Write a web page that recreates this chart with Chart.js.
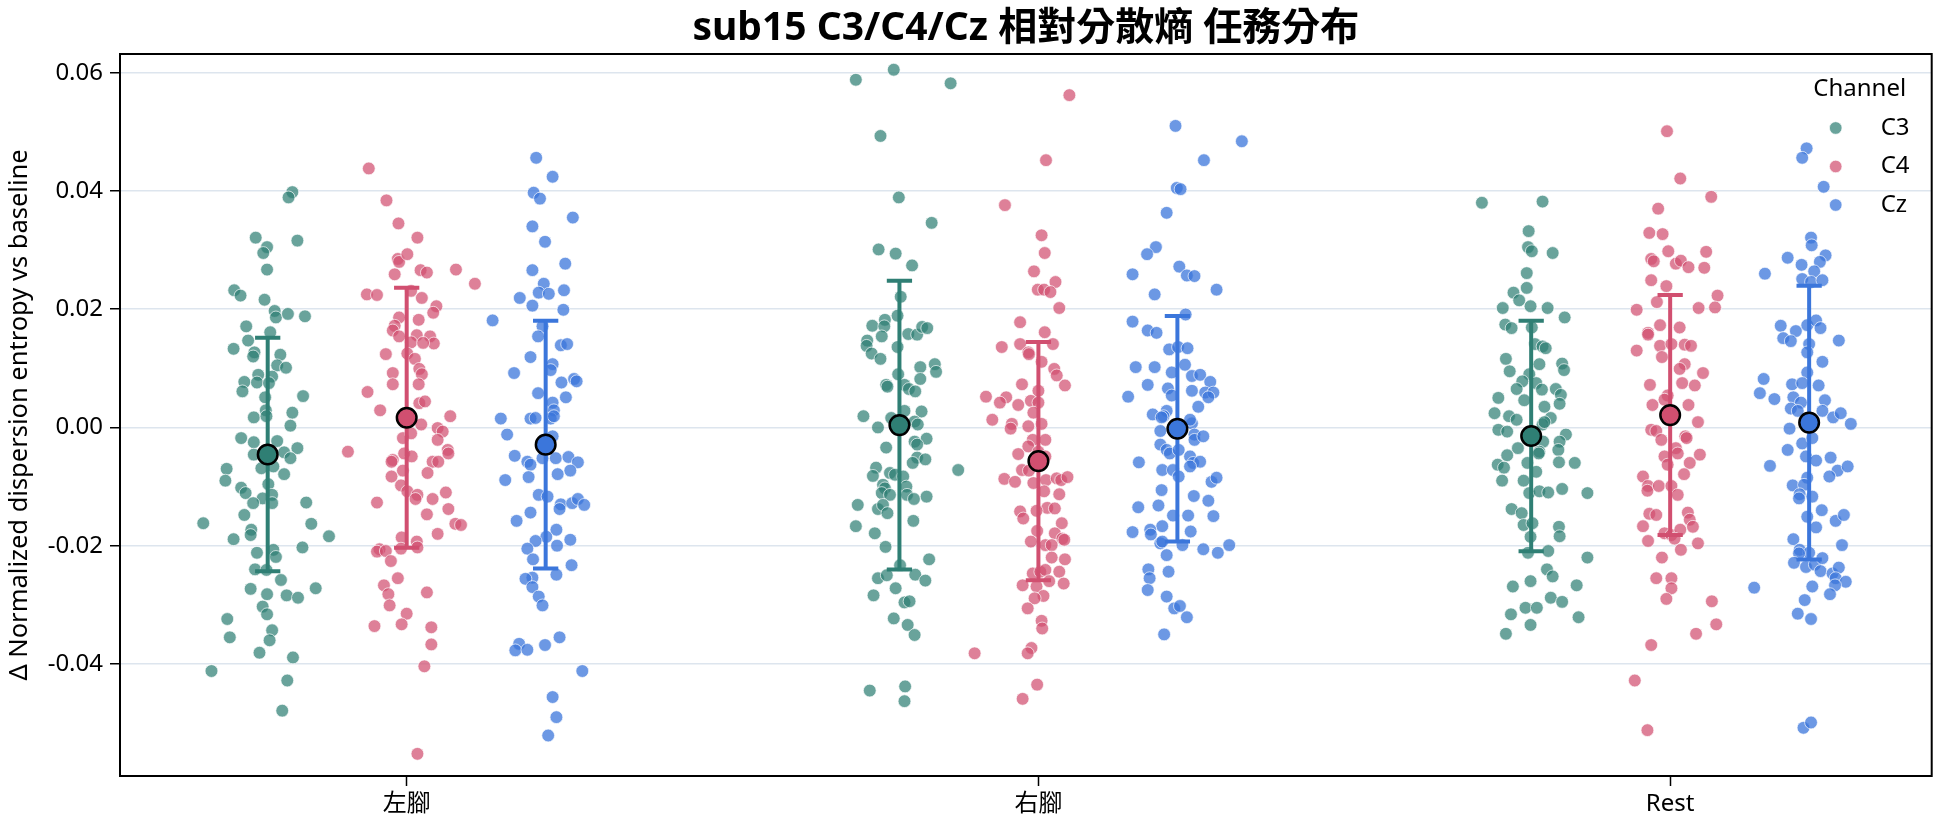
<!DOCTYPE html>
<html>
<head>
<meta charset="utf-8">
<script src="https://cdn.jsdelivr.net/npm/chart.js@4.4.1/dist/chart.umd.min.js"></script>
<style>
  html, body { margin: 0; padding: 0; background: #fff; }
  #wrap { width: 1944px; height: 827px; }
</style>
</head>
<body>
<div id="wrap"><canvas id="c" width="1944" height="827"></canvas></div>
<script>
// categories, channels, ticks
const categories = ["左腳", "右腳", "Rest"];
const channels = ["C3", "C4", "Cz"];
const yTicks = [0.06, 0.04, 0.02, 0.00, -0.02, -0.04];
const titleText = "sub15 C3/C4/Cz 相對分散熵 任務分布";

// mean and SD per channel (order: 左腳, 右腳, Rest)
const meanC3 = [-0.00458, 0.00040, -0.00144];
const meanC4 = [0.00164, -0.00570, 0.00209];
const meanCz = [-0.00291, -0.00022, 0.00082];
const sdC3 = [0.01975, 0.02443, 0.01950];
const sdC4 = [0.02200, 0.02015, 0.02030];
const sdCz = [0.02096, 0.01907, 0.02316];

// strip points: [jitter (thousandths of a category), value]
const leftC3 = [
[39,.0398],[33,.0389],[-19,.0321],[-1,.0305],[-7,.0295],[47,.0316],[-1,.0267],[-53,.0232],[-43,.0223],[-5,.0216],
[11,.0197],[13,.0186],[32,.0192],[59,.0188],[-34,.0171],[4,.0161],[-31,.0147],[-54,.0133],[-21,.0127],[-23,.0120],
[20,.0123],[15,.0105],[29,.0101],[-15,.0089],[7,.0086],[-37,.0077],[-17,.0076],[2,.0075],[-40,.0061],[56,.0053],
[-4,.0051],[-3,.0029],[39,.0025],[-22,.0017],[-2,.0019],[36,.0003],[-42,-.0018],[-22,-.0025],[15,-.0023],[47,-.0035],
[26,-.0042],[36,-.0052],[-22,-.0046],[-10,-.0069],[9,-.0066],[-65,-.0070],[-67,-.0090],[26,-.0079],[-42,-.0102],[-35,-.0111],
[1,-.0096],[7,-.0114],[-8,-.0120],[-23,-.0128],[7,-.0128],[61,-.0127],[-37,-.0148],[-102,-.0162],[69,-.0163],[-26,-.0173],
[-27,-.0182],[-54,-.0189],[97,-.0184],[55,-.0203],[-17,-.0212],[9,-.0207],[13,-.0219],[-20,-.0240],[-2,-.0241],[21,-.0258],
[-27,-.0273],[-1,-.0282],[30,-.0284],[48,-.0288],[76,-.0272],[-8,-.0303],[-1,-.0316],[-64,-.0324],[-60,-.0355],[7,-.0343],
[3,-.0360],[-13,-.0381],[40,-.0389],[-89,-.0412],[31,-.0428],[23,-.0479]
];
const leftC4 = [
[0,.0641],[-60,.0438],[-32,.0384],[-13,.0345],[17,.0321],[-14,.0285],[-12,.0280],[1,.0293],[22,.0266],[32,.0262],
[-19,.0259],[78,.0267],[108,.0243],[-63,.0225],[-47,.0224],[7,.0231],[24,.0219],[47,.0205],[42,.0194],[-12,.0186],
[-19,.0172],[19,.0182],[-22,.0164],[-12,.0154],[16,.0156],[7,.0144],[37,.0154],[43,.0142],[26,.0143],[-33,.0124],
[1,.0125],[13,.0116],[20,.0099],[24,.0090],[-22,.0092],[-22,.0073],[19,.0073],[-62,.0060],[20,.0041],[29,.0044],
[-42,.0029],[69,.0019],[23,.0005],[49,-.0001],[57,-.0007],[49,-.0021],[-6,-.0018],[7,-.0010],[-93,-.0041],[65,-.0038],
[66,-.0044],[-4,-.0044],[8,-.0049],[-22,-.0055],[-24,-.0058],[41,-.0058],[50,-.0058],[-6,-.0073],[33,-.0077],[-24,-.0083],
[-9,-.0098],[1,-.0108],[17,-.0114],[14,-.0121],[41,-.0121],[62,-.0110],[-47,-.0127],[66,-.0138],[32,-.0147],[77,-.0163],
[86,-.0165],[49,-.0180],[-8,-.0186],[16,-.0193],[17,-.0203],[-43,-.0206],[-47,-.0210],[-33,-.0209],[-9,-.0205],[-25,-.0226],
[-14,-.0255],[-36,-.0267],[-29,-.0282],[32,-.0279],[-27,-.0301],[0,-.0315],[-51,-.0336],[-8,-.0333],[39,-.0338],[39,-.0367],
[28,-.0404],[17,-.0552]
];
const leftCz = [
[-15,.0456],[11,.0424],[-19,.0397],[-9,.0387],[43,.0355],[-21,.0340],[-1,.0314],[31,.0277],[-21,.0266],[-3,.0243],
[-11,.0228],[5,.0226],[29,.0232],[-41,.0219],[-21,.0206],[28,.0199],[-84,.0181],[-5,.0171],[-12,.0154],[24,.0139],
[34,.0141],[-24,.0119],[11,.0107],[8,.0097],[-50,.0092],[25,.0076],[45,.0082],[49,.0078],[-12,.0058],[32,.0051],
[11,.0042],[13,.0029],[-71,.0015],[-24,.0015],[-16,.0016],[8,.0015],[13,.0019],[-61,-.0012],[11,-.0015],[-49,-.0048],
[-29,-.0058],[-24,-.0063],[-5,-.0052],[16,-.0052],[36,-.0050],[51,-.0059],[39,-.0073],[19,-.0079],[-27,-.0084],[-64,-.0089],
[-11,-.0114],[3,-.0117],[24,-.0130],[22,-.0138],[42,-.0128],[51,-.0121],[61,-.0131],[-24,-.0144],[-46,-.0158],[17,-.0173],
[1,-.0185],[-16,-.0192],[18,-.0200],[39,-.0190],[-29,-.0205],[-20,-.0223],[41,-.0233],[17,-.0249],[-21,-.0254],[-32,-.0256],
[-21,-.0270],[-11,-.0286],[-5,-.0301],[22,-.0355],[-42,-.0366],[-48,-.0377],[-29,-.0376],[-1,-.0368],[58,-.0412],[11,-.0456],
[17,-.0490],[4,-.0521]
];
const rightC3 = [
[-69,.0588],[-9,.0605],[81,.0582],[-30,.0493],[-1,.0389],[51,.0346],[-33,.0301],[-6,.0294],[20,.0274],[2,.0221],
[-3,.0189],[-23,.0182],[-43,.0172],[-24,.0171],[14,.0158],[28,.0157],[36,.0170],[44,.0168],[-28,.0154],[-51,.0147],
[-52,.0138],[-44,.0125],[-3,.0136],[-30,.0116],[56,.0107],[58,.0094],[33,.0102],[33,.0082],[-2,.0090],[-21,.0072],
[-19,.0069],[8,.0072],[15,.0065],[25,.0061],[35,.0027],[8,.0028],[-57,.0019],[-34,.0000],[-13,.0016],[24,.0010],
[29,.0005],[43,-.0019],[24,-.0024],[28,-.0029],[-21,-.0034],[28,-.0051],[41,-.0054],[21,-.0060],[-37,-.0068],[-42,-.0082],
[-15,-.0077],[-7,-.0080],[6,-.0083],[93,-.0072],[-26,-.0097],[-23,-.0103],[11,-.0100],[-28,-.0111],[-15,-.0114],[12,-.0114],
[23,-.0121],[43,-.0117],[-66,-.0131],[-34,-.0138],[-26,-.0131],[-19,-.0145],[22,-.0158],[-69,-.0167],[-39,-.0179],[-22,-.0202],
[47,-.0223],[1,-.0233],[-34,-.0255],[-20,-.0250],[25,-.0249],[41,-.0259],[-6,-.0272],[-41,-.0284],[8,-.0296],[16,-.0294],
[-9,-.0323],[13,-.0334],[24,-.0351],[-47,-.0445],[9,-.0438],[8,-.0463]
];
const rightC4 = [
[49,.0562],[12,.0452],[-53,.0376],[5,.0325],[10,.0295],[-7,.0264],[27,.0246],[-1,.0233],[9,.0233],[19,.0229],
[33,.0202],[-29,.0178],[10,.0161],[-58,.0136],[-29,.0141],[23,.0141],[-16,.0127],[-15,.0124],[5,.0111],[25,.0099],
[29,.0088],[42,.0071],[-26,.0073],[0,.0062],[-83,.0052],[-51,.0051],[-61,.0042],[-32,.0038],[-12,.0045],[0,.0042],
[-8,.0025],[-73,.0013],[-42,.0006],[-44,-.0002],[-16,.0002],[5,.0006],[-9,-.0021],[11,-.0021],[-16,-.0032],[-32,-.0045],
[0,-.0041],[11,-.0049],[-26,-.0072],[-15,-.0073],[-54,-.0087],[-37,-.0092],[-8,-.0094],[12,-.0089],[29,-.0086],[36,-.0089],
[46,-.0084],[9,-.0108],[33,-.0113],[14,-.0136],[26,-.0137],[-29,-.0142],[-24,-.0154],[-3,-.0141],[37,-.0162],[-2,-.0175],
[26,-.0179],[38,-.0188],[41,-.0190],[-12,-.0193],[11,-.0199],[21,-.0199],[21,-.0220],[42,-.0223],[-9,-.0247],[3,-.0244],
[11,-.0241],[33,-.0244],[-25,-.0267],[-3,-.0269],[17,-.0260],[40,-.0264],[8,-.0285],[-6,-.0289],[-17,-.0306],[5,-.0327],
[6,-.0340],[-101,-.0382],[-11,-.0373],[-17,-.0382],[-2,-.0435],[-25,-.0459]
];
const rightCz = [
[-3,.0510],[102,.0484],[42,.0452],[-1,.0405],[5,.0403],[-17,.0363],[-34,.0305],[-48,.0293],[3,.0272],[15,.0257],
[27,.0256],[-71,.0259],[-36,.0225],[62,.0233],[13,.0191],[-71,.0179],[-47,.0164],[-33,.0160],[-13,.0132],[1,.0136],
[16,.0134],[12,.0106],[-9,.0093],[-66,.0102],[-36,.0102],[23,.0087],[36,.0089],[52,.0077],[-47,.0072],[-15,.0066],
[23,.0062],[44,.0059],[57,.0059],[49,.0051],[-78,.0052],[-9,.0054],[33,.0035],[-39,.0022],[-17,.0028],[-22,.0019],
[-25,.0017],[23,.0007],[20,.0013],[-27,-.0006],[27,-.0012],[27,-.0021],[41,-.0015],[-27,-.0029],[-17,-.0038],[-12,-.0044],
[2,-.0038],[20,-.0049],[25,-.0060],[36,-.0058],[20,-.0066],[-61,-.0059],[-24,-.0072],[-7,-.0072],[2,-.0083],[54,-.0092],
[62,-.0085],[-25,-.0106],[26,-.0116],[49,-.0124],[-62,-.0135],[-30,-.0132],[-7,-.0149],[17,-.0149],[57,-.0150],[-24,-.0167],
[-71,-.0177],[-43,-.0173],[-42,-.0181],[21,-.0176],[-27,-.0196],[-24,-.0193],[8,-.0199],[41,-.0206],[64,-.0212],[82,-.0199],
[-17,-.0216],[-46,-.0240],[-44,-.0255],[-47,-.0275],[-14,-.0244],[-17,-.0286],[-5,-.0306],[4,-.0302],[15,-.0321],[-21,-.0350]
];
const restC3 = [
[-78,.0380],[18,.0382],[-4,.0332],[-5,.0305],[1,.0298],[34,.0295],[-7,.0261],[-7,.0236],[-28,.0228],[-19,.0215],
[-45,.0202],[-1,.0205],[26,.0202],[53,.0186],[-41,.0174],[-31,.0168],[1,.0169],[6,.0141],[18,.0137],[23,.0134],
[-40,.0116],[13,.0107],[49,.0108],[52,.0097],[-34,.0095],[-3,.0090],[-14,.0078],[-23,.0065],[8,.0075],[17,.0064],
[39,.0065],[47,.0055],[-52,.0050],[-11,.0046],[21,.0035],[45,.0040],[-58,.0024],[-35,.0019],[-23,.0013],[31,.0016],
[18,.0005],[21,.0009],[-52,-.0004],[-38,-.0007],[19,-.0024],[55,-.0012],[45,-.0024],[43,-.0038],[-21,-.0035],[13,-.0041],
[12,-.0044],[-38,-.0047],[-53,-.0063],[-43,-.0068],[-6,-.0060],[44,-.0059],[69,-.0060],[8,-.0075],[-46,-.0090],[-12,-.0090],
[-3,-.0111],[13,-.0108],[27,-.0110],[49,-.0104],[89,-.0111],[-31,-.0138],[-15,-.0145],[-12,-.0165],[2,-.0162],[44,-.0168],
[45,-.0184],[-1,-.0185],[-5,-.0212],[27,-.0209],[89,-.0220],[25,-.0240],[34,-.0252],[-1,-.0260],[-29,-.0269],[72,-.0267],
[31,-.0288],[49,-.0295],[-9,-.0305],[9,-.0305],[-32,-.0316],[75,-.0321],[-1,-.0334],[-40,-.0349]
];
const restC4 = [
[-5,.0501],[16,.0421],[65,.0390],[-19,.0370],[-33,.0329],[-12,.0327],[-3,.0298],[57,.0297],[-30,.0285],[-26,.0281],
[9,.0277],[17,.0282],[29,.0271],[54,.0270],[-30,.0249],[-6,.0239],[75,.0223],[-21,.0212],[-53,.0199],[45,.0202],
[71,.0203],[-16,.0173],[15,.0169],[-35,.0160],[-35,.0157],[-16,.0138],[2,.0141],[23,.0140],[33,.0138],[-53,.0130],
[-13,.0119],[23,.0107],[15,.0099],[52,.0092],[-32,.0072],[19,.0075],[39,.0071],[-4,.0054],[-9,.0047],[-28,.0038],
[29,.0038],[44,.0009],[-30,-.0004],[-22,-.0006],[-14,-.0021],[24,-.0015],[26,-.0018],[9,-.0035],[12,-.0044],[-9,-.0049],
[-4,-.0063],[47,-.0046],[31,-.0060],[22,-.0079],[-43,-.0083],[-35,-.0099],[-36,-.0107],[-18,-.0099],[2,-.0099],[12,-.0114],
[-33,-.0146],[-22,-.0148],[28,-.0144],[31,-.0156],[36,-.0168],[-43,-.0167],[-9,-.0179],[2,-.0182],[16,-.0173],[7,-.0188],
[-35,-.0192],[44,-.0196],[17,-.0207],[-13,-.0220],[-22,-.0255],[2,-.0255],[2,-.0272],[-6,-.0290],[66,-.0294],[73,-.0333],
[41,-.0349],[-30,-.0368],[-56,-.0428],[-36,-.0512]
];
const restCz = [
[-4,.0472],[-11,.0456],[23,.0407],[3,.0321],[4,.0308],[-34,.0287],[26,.0291],[17,.0280],[-12,.0275],[-70,.0260],
[8,.0264],[-11,.0251],[3,.0246],[21,.0249],[-45,.0172],[-21,.0163],[-41,.0151],[-29,.0146],[-3,.0173],[11,.0181],
[18,.0168],[47,.0147],[0,.0141],[-3,.0127],[21,.0111],[-3,.0093],[-72,.0082],[-78,.0058],[-27,.0073],[-11,.0075],
[15,.0071],[-55,.0048],[-25,.0051],[-13,.0042],[25,.0046],[-29,.0032],[-18,.0028],[21,.0028],[38,.0017],[50,.0024],
[66,.0006],[-31,-.0002],[-11,-.0027],[5,-.0018],[-34,-.0038],[-62,-.0065],[-5,-.0049],[11,-.0056],[34,-.0051],[45,-.0073],
[61,-.0066],[32,-.0083],[-3,-.0085],[-26,-.0098],[-8,-.0097],[-15,-.0113],[-16,-.0120],[5,-.0117],[20,-.0140],[-3,-.0151],
[11,-.0169],[42,-.0158],[55,-.0148],[-25,-.0189],[-15,-.0207],[0,-.0212],[-16,-.0213],[52,-.0199],[-24,-.0229],[-5,-.0236],
[9,-.0232],[18,-.0243],[21,-.0221],[37,-.0247],[47,-.0237],[42,-.0255],[58,-.0261],[41,-.0267],[-87,-.0271],[5,-.0269],
[33,-.0282],[-7,-.0292],[-18,-.0315],[3,-.0324],[-9,-.0508],[3,-.0499]
];

// styling
const FONT = "'Noto Sans', 'Noto Sans CJK TC', sans-serif";
const baseColor = { C3: "#2f7f74", C4: "#d14f70", Cz: "#3b76db" };
const pointColor = { C3: "rgba(47,127,116,0.72)", C4: "rgba(209,79,112,0.72)", Cz: "rgba(59,118,219,0.75)" };
const dodge = [-0.22, 0, 0.22];

const strips = { C3: [leftC3, rightC3, restC3], C4: [leftC4, rightC4, restC4], Cz: [leftCz, rightCz, restCz] };
const means = { C3: meanC3, C4: meanC4, Cz: meanCz };
const sds = { C3: sdC3, C4: sdC4, Cz: sdCz };

function stripData(ch, h) {
  const out = [];
  strips[ch].forEach((pts, ci) => {
    pts.forEach(p => out.push({ x: ci + dodge[h] + p[0] / 1000, y: p[1] }));
  });
  return out;
}
function errData(ch, h) {
  const out = [], cap = 0.02;
  means[ch].forEach((m, ci) => {
    const x = ci + dodge[h], lo = m - sds[ch][ci], hi = m + sds[ch][ci];
    out.push({ x: x, y: lo }, { x: x, y: hi }, { x: x, y: null },
             { x: x - cap, y: hi }, { x: x + cap, y: hi }, { x: x, y: null },
             { x: x - cap, y: lo }, { x: x + cap, y: lo }, { x: x, y: null });
  });
  return out;
}
function meanData(ch, h) {
  return means[ch].map((m, ci) => ({ x: ci + dodge[h], y: m }));
}

const datasets = [];
channels.forEach((ch, h) => {
  datasets.push({
    label: ch, data: stripData(ch, h), order: 3, clip: 0,
    pointRadius: 6.4, pointBackgroundColor: pointColor[ch],
    pointBorderColor: "rgba(255,255,255,0.85)", pointBorderWidth: 0.8
  });
});
channels.forEach((ch, h) => {
  datasets.push({
    type: "line", label: ch + " sd", data: errData(ch, h), order: 2,
    borderColor: baseColor[ch], borderWidth: 4, pointRadius: 0, spanGaps: false, fill: false
  });
});
channels.forEach((ch, h) => {
  datasets.push({
    label: ch + " mean", data: meanData(ch, h), order: 1,
    pointRadius: 9.8, pointBackgroundColor: baseColor[ch],
    pointBorderColor: "#000", pointBorderWidth: 2.5
  });
});

// frame, title and legend
const decor = {
  id: "decor",
  afterDraw(chart) {
    const { ctx, chartArea: a } = chart;
    ctx.save();
    ctx.strokeStyle = "#000";
    ctx.lineWidth = 2;
    ctx.strokeRect(a.left, a.top, a.right - a.left, a.bottom - a.top);

    ctx.fillStyle = "#000";
    ctx.textAlign = "center";
    ctx.textBaseline = "middle";
    ctx.font = "bold 39px " + FONT;
    ctx.fillText(titleText, (a.left + a.right) / 2, 29);

    ctx.font = "24px " + FONT;
    ctx.fillText("Channel", a.right - 72, a.top + 35);
    channels.forEach((ch, i) => {
      const y = a.top + 74 + i * 38.5;
      ctx.beginPath();
      ctx.arc(a.right - 96, y, 6.3, 0, Math.PI * 2);
      ctx.fillStyle = pointColor[ch];
      ctx.fill();
      ctx.lineWidth = 0.8;
      ctx.strokeStyle = "rgba(255,255,255,0.85)";
      ctx.stroke();
      ctx.fillStyle = "#000";
      ctx.textAlign = "left";
      ctx.fillText(ch, a.right - 51, y);
    });
    ctx.restore();
  }
};

new Chart(document.getElementById("c"), {
  type: "scatter",
  data: { datasets: datasets },
  plugins: [decor],
  options: {
    responsive: false,
    devicePixelRatio: 1,
    animation: false,
    events: [],
    layout: { padding: { top: 54, right: 10, left: 0, bottom: 0 } },
    plugins: { legend: { display: false }, tooltip: { enabled: false }, title: { display: false } },
    scales: {
      x: {
        type: "linear", min: -0.4538, max: 2.414,
        afterBuildTicks: s => { s.ticks = [0, 1, 2].map(v => ({ value: v })); },
        afterFit: s => { s.height = 51; },
        ticks: { callback: (v, i) => categories[i], font: { family: FONT, size: 24 }, color: "#000", padding: 4, autoSkip: false, maxRotation: 0 },
        grid: { drawOnChartArea: false, drawTicks: true, tickColor: "#000", tickLength: 10, tickWidth: 1.5 },
        border: { display: false }
      },
      y: {
        min: -0.05895, max: 0.06316,
        afterBuildTicks: s => { s.ticks = yTicks.map(v => ({ value: v })); },
        afterFit: s => { s.width = 120; },
        ticks: { callback: v => v.toFixed(2), font: { family: FONT, size: 24 }, color: "#000", padding: 7 },
        grid: { color: "#dde5ee", lineWidth: 1.5, drawTicks: true, tickColor: "#000", tickLength: 10, tickWidth: 1.5 },
        border: { display: false },
        title: { display: true, text: "Δ Normalized dispersion entropy vs baseline", font: { family: FONT, size: 25.5 }, color: "#000", padding: { top: 4, bottom: 4 } }
      }
    }
  }
});
</script>
</body>
</html>
